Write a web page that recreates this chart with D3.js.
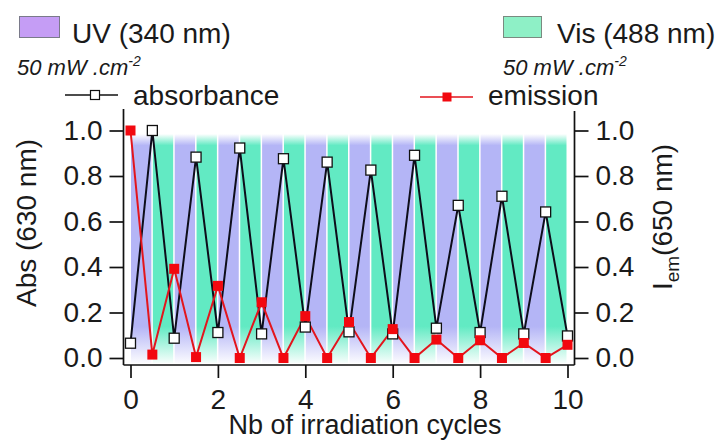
<!DOCTYPE html>
<html>
<head>
<meta charset="utf-8">
<script src="https://cdn.jsdelivr.net/npm/d3@7"></script>
<style>
  body { margin: 0; background: #fff; }
  text { font-family: "Liberation Sans", Arial, sans-serif; fill: #1a1a1a; }
</style>
</head>
<body>
<script>
// Photoswitching cycles: absorbance vs emission

// half-cycle positions (x values)
var cycles = [0, 0.5, 1, 1.5, 2, 2.5, 3, 3.5, 4, 4.5, 5, 5.5, 6, 6.5, 7, 7.5, 8, 8.5, 9, 9.5, 10];
var absorbance = [0.065, 1.0, 0.087, 0.883, 0.112, 0.923, 0.106, 0.876, 0.136, 0.861, 0.115,
                  0.826, 0.106, 0.891, 0.131, 0.671, 0.112, 0.711, 0.106, 0.642, 0.097];
var emission = [1.0, 0.015, 0.392, 0.004, 0.317, 0.0, 0.245, 0.0, 0.184, 0.0, 0.158,
                0.0, 0.127, 0.0, 0.081, 0.0, 0.078, 0.0, 0.066, 0.0, 0.058];

// irradiation bands (start of each half cycle)
var uvStarts = [0, 1, 2, 3, 4, 5, 6, 7, 8, 9];
var visStarts = [0.5, 1.5, 2.5, 3.5, 4.5, 5.5, 6.5, 7.5, 8.5, 9.5];
var bandWidth = 0.5;

var xTicks = [0, 2, 4, 6, 8, 10];
var yTicks = [0, 0.2, 0.4, 0.6, 0.8, 1.0];

var svgWidth = 718;
var svgHeight = 441;

var svg = d3.select("body")
    .append("svg")
    .attr("width", svgWidth)
    .attr("height", svgHeight);

var xScale = d3.scaleLinear().domain([0, 10]).range([130.5, 567.5]);
var yScale = d3.scaleLinear().domain([0, 1]).range([358, 130.5]);
var yScaleRight = d3.scaleLinear().domain([0, 1]).range([358, 130.5]);

var frameLeft = 123.5, frameRight = 574.5, frameBottom = 365;

// gradients for the bands (fade at top and bottom)
var defs = svg.append("defs");
function makeGrad(id, color) {
    var g = defs.append("linearGradient")
        .attr("id", id)
        .attr("x1", 0).attr("y1", 0).attr("x2", 0).attr("y2", 1);
    g.append("stop").attr("offset", "0").attr("stop-color", color).attr("stop-opacity", 0);
    g.append("stop").attr("offset", "0.05").attr("stop-color", color).attr("stop-opacity", 1);
    g.append("stop").attr("offset", "0.84").attr("stop-color", color).attr("stop-opacity", 1);
    g.append("stop").attr("offset", "1").attr("stop-color", color).attr("stop-opacity", 0.05);
}
makeGrad("uvGrad", "#b4b5f6");
makeGrad("visGrad", "#62eac3");

var bandTop = 134, bandBottom = 363;

svg.append("g").selectAll("rect")
    .data(uvStarts)
    .enter()
    .append("rect")
    .attr("x", d => xScale(d) + 0.5)
    .attr("width", d => xScale(d + bandWidth) - xScale(d) - 1.5)
    .attr("y", bandTop)
    .attr("height", bandBottom - bandTop)
    .attr("fill", "url(#uvGrad)");

svg.append("g").selectAll("rect")
    .data(visStarts)
    .enter()
    .append("rect")
    .attr("x", d => xScale(d) + 0.5)
    .attr("width", d => xScale(d + bandWidth) - xScale(d) - 1.5)
    .attr("y", bandTop)
    .attr("height", bandBottom - bandTop)
    .attr("fill", "url(#visGrad)");

// frame lines
svg.append("line")
    .attr("x1", frameLeft).attr("x2", frameLeft)
    .attr("y1", 109).attr("y2", frameBottom)
    .attr("stroke", "#111").attr("stroke-width", 1.7);
svg.append("line")
    .attr("x1", frameRight).attr("x2", frameRight)
    .attr("y1", 111).attr("y2", frameBottom)
    .attr("stroke", "#111").attr("stroke-width", 1.7);
svg.append("line")
    .attr("x1", frameLeft).attr("x2", frameRight)
    .attr("y1", frameBottom).attr("y2", frameBottom)
    .attr("stroke", "#111").attr("stroke-width", 1.7);

// axes
function styleAxis(g) {
    g.select(".domain").remove();
    g.selectAll(".tick line").attr("stroke", "#111").attr("stroke-width", 1.7);
    g.selectAll(".tick text")
        .style("font-family", "'Liberation Sans', Arial, sans-serif")
        .style("font-size", "28px")
        .attr("fill", "#1a1a1a");
}

var leftAxis = d3.axisLeft(yScale)
    .tickValues(yTicks).tickSize(14).tickPadding(7)
    .tickFormat(d3.format(".1f"));
svg.append("g")
    .attr("transform", `translate(${frameLeft},0)`)
    .call(leftAxis)
    .call(styleAxis);

var rightAxis = d3.axisRight(yScaleRight)
    .tickValues(yTicks).tickSize(14).tickPadding(7)
    .tickFormat(d3.format(".1f"));
svg.append("g")
    .attr("transform", `translate(${frameRight},0)`)
    .call(rightAxis)
    .call(styleAxis);

var bottomAxis = d3.axisBottom(xScale)
    .tickValues(xTicks).tickSize(13).tickPadding(11)
    .tickFormat(d3.format("d"));
svg.append("g")
    .attr("transform", `translate(0,${frameBottom})`)
    .call(bottomAxis)
    .call(styleAxis);

// axis titles
svg.append("text")
    .attr("transform", "translate(36,223) rotate(-90)")
    .attr("text-anchor", "middle")
    .style("font-size", "28px")
    .text("Abs (630 nm)");

var rLabel = svg.append("text")
    .attr("transform", "translate(672,217) rotate(-90)")
    .attr("text-anchor", "middle")
    .style("font-size", "28px");
rLabel.append("tspan").text("I");
rLabel.append("tspan").attr("dy", 7).style("font-size", "19px").text("em");
rLabel.append("tspan").attr("dy", -7).text("(650 nm)");

svg.append("text")
    .attr("x", 365)
    .attr("y", 434)
    .attr("text-anchor", "middle")
    .style("font-size", "27px")
    .text("Nb of irradiation cycles");

// series lines
var absLine = d3.line()
    .x((d, i) => xScale(cycles[i]))
    .y(d => yScale(d));
var emLine = d3.line()
    .x((d, i) => xScale(cycles[i]))
    .y(d => yScaleRight(d));

svg.append("path")
    .datum(absorbance)
    .attr("d", absLine)
    .attr("fill", "none")
    .attr("stroke", "#0d0d1a")
    .attr("stroke-width", 2);

svg.append("path")
    .datum(emission)
    .attr("d", emLine)
    .attr("fill", "none")
    .attr("stroke", "#e3151d")
    .attr("stroke-width", 2);

var ms = 10;
svg.append("g").selectAll("rect")
    .data(absorbance)
    .enter()
    .append("rect")
    .attr("x", (d, i) => xScale(cycles[i]) - ms / 2)
    .attr("y", d => yScale(d) - ms / 2)
    .attr("width", ms).attr("height", ms)
    .attr("fill", "#fff")
    .attr("stroke", "#111")
    .attr("stroke-width", 1.3);

svg.append("g").selectAll("rect")
    .data(emission)
    .enter()
    .append("rect")
    .attr("x", (d, i) => xScale(cycles[i]) - ms / 2)
    .attr("y", d => yScaleRight(d) - ms / 2)
    .attr("width", ms).attr("height", ms)
    .attr("fill", "#f2080f");

// legends: irradiation
svg.append("rect")
    .attr("x", 19.5).attr("y", 16.5).attr("width", 40).attr("height", 21)
    .attr("fill", "#c59df5").attr("stroke", "#7a7a8a").attr("stroke-width", 1);
svg.append("text")
    .attr("x", 72).attr("y", 43)
    .style("font-size", "28px")
    .text("UV (340 nm)");

svg.append("rect")
    .attr("x", 503.5).attr("y", 16.5).attr("width", 38).attr("height", 21)
    .attr("fill", "#8ef0c6").attr("stroke", "#7a8a80").attr("stroke-width", 1);
svg.append("text")
    .attr("x", 557).attr("y", 43)
    .style("font-size", "28px")
    .text("Vis (488 nm)");

function powerLabel(x, y) {
    var t = svg.append("text")
        .attr("x", x).attr("y", y)
        .style("font-size", "22px")
        .style("font-style", "italic");
    t.append("tspan").text("50 mW .cm");
    t.append("tspan").attr("dy", -9).style("font-size", "14px").text("-2");
}
powerLabel(17, 75);
powerLabel(503, 75);

// legends: series
svg.append("line")
    .attr("x1", 65).attr("x2", 118).attr("y1", 95).attr("y2", 95)
    .attr("stroke", "#111").attr("stroke-width", 1.7);
svg.append("rect")
    .attr("x", 95 - 4.5).attr("y", 95 - 4.5).attr("width", 9).attr("height", 9)
    .attr("fill", "#fff").attr("stroke", "#111").attr("stroke-width", 1.2);
svg.append("text")
    .attr("x", 133).attr("y", 105)
    .style("font-size", "28px")
    .text("absorbance");

svg.append("line")
    .attr("x1", 420).attr("x2", 473).attr("y1", 97).attr("y2", 97)
    .attr("stroke", "#e3151d").attr("stroke-width", 1.7);
svg.append("rect")
    .attr("x", 447 - 4.5).attr("y", 97 - 4.5).attr("width", 9).attr("height", 9)
    .attr("fill", "#f2080f");
svg.append("text")
    .attr("x", 488).attr("y", 105)
    .style("font-size", "28px")
    .text("emission");
</script>
</body>
</html>
